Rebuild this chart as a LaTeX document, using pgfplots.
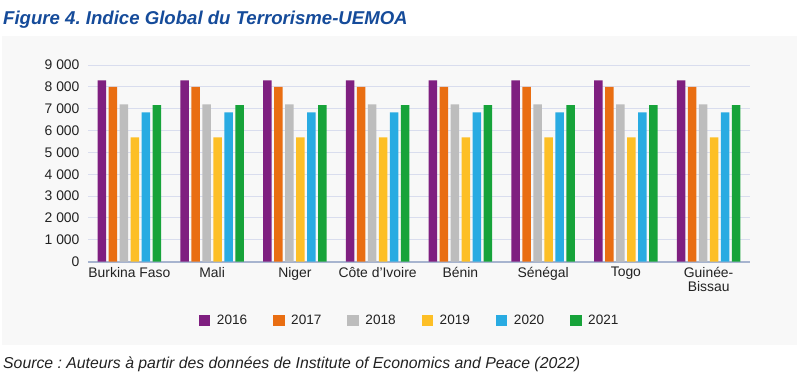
\documentclass[border=0pt]{standalone}
\usepackage{pgfplots}
\pgfplotsset{compat=1.18}
\usepackage{fontspec}
\setmainfont{Liberation Sans}
\frenchspacing
\definecolor{c16}{HTML}{7F1F80}
\definecolor{c17}{HTML}{E96E12}
\definecolor{c18}{HTML}{BDBDBD}
\definecolor{c19}{HTML}{FDBF26}
\definecolor{c20}{HTML}{29ABE2}
\definecolor{c21}{HTML}{17A33A}
\definecolor{bg}{HTML}{F8F8F8}
\definecolor{titleblue}{HTML}{154B9A}
\definecolor{gridc}{HTML}{D9DDEE}
\definecolor{basec}{HTML}{A7B4CF}
\definecolor{txt}{HTML}{222222}
\begin{document}
\begin{tikzpicture}
\path[use as bounding box] (0,0) rectangle (797pt,-380pt);
\fill[white] (0,0) rectangle (797pt,-380pt);
\fill[bg] (2pt,-36pt) rectangle (797pt,-345pt);
\node[anchor=base west, font=\bfseries\itshape\fontsize{18.6}{20}\selectfont, text=titleblue, inner sep=0pt] at (3pt,-24pt) {Figure 4. Indice Global du Terrorisme-UEMOA};
\node[anchor=base west, font=\itshape\fontsize{15.8}{17}\selectfont, text=txt, inner sep=0pt] at (3pt,-368pt) {Source : Auteurs à partir des données de Institute of Economics and Peace (2022)};
\begin{axis}[
  at={(88pt,-261.7pt)}, anchor=south west,
  scale only axis, width=662pt, height=196.7pt,
  ymin=0, ymax=9000, xmin=-0.5, xmax=7.5,
  ytick={0,1000,...,9000},
  xtick={0,...,7},
  xticklabels={Burkina Faso,Mali,Niger,Côte d'Ivoire,Bénin,Sénégal,Togo,{Guinée-\\Bissau}},
  xticklabel style={align=center, font=\fontsize{13.9}{14.5}\selectfont, text=txt, yshift=-2pt},
  yticklabel style={font=\fontsize{13.9}{14}\selectfont, text=txt, xshift=-5pt},
  /pgf/number format/assume math mode=true,
  /pgf/number format/1000 sep={\ },
  scaled y ticks=false,
  major tick length=0pt,
  axis line style={draw=none},
  ymajorgrids, grid style={gridc, line width=1pt},
  extra y ticks={0}, extra y tick labels={},
  extra y tick style={grid style={basec, line width=1.6pt}},
  ybar=2.5pt, bar width=8.5pt,
  legend columns=6,
  legend style={at={(0.486,-0.301)}, anchor=center, draw=none, fill=none,
    font=\fontsize{13.6}{14}\selectfont, text=txt,
    /tikz/every even column/.append style={column sep=24pt},
    /tikz/every odd column/.append style={column sep=4.5pt}},
  legend image code/.code={\fill[#1] (0pt,-5.5pt) rectangle (11.5pt,5.5pt);},
]
\addplot[fill=c16, draw=none] coordinates {(0,8300) (1,8300) (2,8300) (3,8300) (4,8300) (5,8300) (6,8300) (7,8300)};
\addplot[fill=c17, draw=none] coordinates {(0,8000) (1,8000) (2,8000) (3,8000) (4,8000) (5,8000) (6,8000) (7,8000)};
\addplot[fill=c18, draw=none] coordinates {(0,7200) (1,7200) (2,7200) (3,7200) (4,7200) (5,7200) (6,7200) (7,7200)};
\addplot[fill=c19, draw=none] coordinates {(0,5690) (1,5690) (2,5690) (3,5690) (4,5690) (5,5690) (6,5690) (7,5690)};
\addplot[fill=c20, draw=none] coordinates {(0,6830) (1,6830) (2,6830) (3,6830) (4,6830) (5,6830) (6,6830) (7,6830)};
\addplot[fill=c21, draw=none] coordinates {(0,7170) (1,7170) (2,7170) (3,7170) (4,7170) (5,7170) (6,7170) (7,7170)};
\legend{2016,2017,2018,2019,2020,2021}
\end{axis}
\end{tikzpicture}
\end{document}
